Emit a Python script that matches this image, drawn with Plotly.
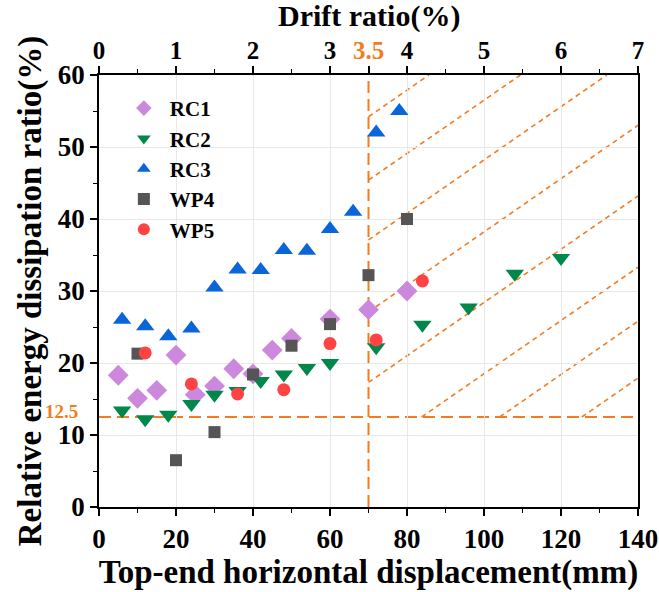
import plotly.graph_objects as go

# ---------------- data ----------------
rc1_x = [5, 10, 15, 20, 25, 30, 35, 40, 45, 50, 60, 70, 80]
rc1_y = [18.3, 15.1, 16.2, 21.1, 15.6, 16.8, 19.2, 18.5, 21.8, 23.4, 26.1, 27.4, 30.0]

rc2_x = [6, 12, 18, 24, 30, 36, 42, 48, 54, 60, 72, 84, 96, 108, 120]
rc2_y = [13.4, 12.2, 12.8, 14.3, 15.6, 16.1, 17.5, 18.4, 19.3, 20.0, 22.2, 25.3, 27.7, 32.4, 34.6]

rc3_x = [6, 12, 18, 24, 30, 36, 42, 48, 54, 60, 66, 72, 78]
rc3_y = [26.0, 25.1, 23.7, 24.8, 30.5, 33.0, 32.9, 35.7, 35.6, 38.6, 41.0, 52.0, 55.0]

wp4_x = [10, 20, 30, 40, 50, 60, 70, 80]
wp4_y = [21.3, 6.5, 10.4, 18.4, 22.4, 25.4, 32.2, 40.0]

wp5_x = [12, 24, 36, 48, 60, 72, 84]
wp5_y = [21.4, 17.1, 15.7, 16.3, 22.7, 23.2, 31.4]

x_ticks = [0, 20, 40, 60, 80, 100, 120, 140]
y_ticks = [0, 10, 20, 30, 40, 50, 60]
drift_ticks = [0, 1, 2, 3, 3.5, 4, 5, 6, 7]

limit_disp = 70        # mm (3.5 % drift)
limit_ratio = 12.5     # %
hatch_slope = 0.37     # hatch line slope (data units)
hatch_y0 = [54.2, 45.4, 37.1, 27.1, 17.3, 7.4, -0.1, -8.0]  # hatch y at x=70

ORANGE = "#F47B20"
FONT = "Liberation Serif"

fig = go.Figure()

series = [
    ("RC1", rc1_x, rc1_y, "diamond", "#CC88DD", 16),
    ("RC2", rc2_x, rc2_y, "triangle-down", "#00874A", 16),
    ("RC3", rc3_x, rc3_y, "triangle-up", "#0A66D8", 16),
    ("WP4", wp4_x, wp4_y, "square", "#555555", 12),
    ("WP5", wp5_x, wp5_y, "circle", "#FF4242", 13),
]
for name, xs, ys, sym, col, sz in series:
    fig.add_trace(go.Scatter(
        x=xs, y=ys, mode="markers", name=name,
        marker=dict(symbol=sym, color=col, size=sz, line=dict(width=0)),
    ))

# dummy trace for top axis
fig.add_trace(go.Scatter(x=[0, 7], y=[None, None], xaxis="x2", showlegend=False,
                         hoverinfo="skip", mode="markers"))

# limit lines
x_lo, x_hi = x_ticks[0], x_ticks[-1]
y_lo, y_hi = y_ticks[0], y_ticks[-1]
fig.add_shape(type="line", x0=limit_disp, x1=limit_disp, y0=y_lo, y1=y_hi,
              xref="x", yref="y", line=dict(color=ORANGE, width=2, dash="12px,6px"), layer="below")
fig.add_shape(type="line", x0=x_lo, x1=x_hi, y0=limit_ratio, y1=limit_ratio,
              xref="x", yref="y", line=dict(color=ORANGE, width=2, dash="12px,6px"), layer="below")

# hatch lines in the region x>=70, y>=12.5
for y0 in hatch_y0:
    if y0 >= limit_ratio:
        xs0, ys0 = limit_disp, y0
    else:
        xs0, ys0 = limit_disp + (limit_ratio - y0) / hatch_slope, limit_ratio
    y_end = y0 + hatch_slope * (x_hi - limit_disp)
    if y_end <= y_hi:
        xe, ye = x_hi, y_end
    else:
        xe, ye = limit_disp + (y_hi - y0) / hatch_slope, y_hi
    fig.add_shape(type="line", x0=xs0, y0=ys0, x1=xe, y1=ye, xref="x", yref="y",
                  line=dict(color=ORANGE, width=1.6, dash="5px,4px"), layer="below")

tickfont = dict(family=FONT, size=27, color="black", weight="bold")
toptickfont = dict(family=FONT, size=25, color="black", weight="bold")
titlefont = dict(family=FONT, size=33, color="black", weight="bold")

drift_text = [f'<span style="color:{ORANGE}">3.5</span>' if v == 3.5 else str(int(v))
              for v in drift_ticks]

fig.update_layout(
    width=659, height=592,
    margin=dict(l=99, r=21, t=75, b=85),
    paper_bgcolor="white", plot_bgcolor="white",
    showlegend=True,
    legend=dict(x=0.035, y=0.97, xanchor="left", yanchor="top",
                bgcolor="rgba(0,0,0,0)", font=dict(family=FONT, size=21, color="black", weight="bold"),
                tracegroupgap=0, itemsizing="constant", itemwidth=42),
    xaxis=dict(range=[x_lo, x_hi], tickvals=x_ticks, showgrid=True, gridcolor="#E8E8E8",
               gridwidth=1, zeroline=False, showline=True, linecolor="black", linewidth=1.5,
               ticks="outside", ticklen=7, tickwidth=1.5, tickcolor="black",
               minor=dict(dtick=10, ticks="outside", ticklen=4, tickwidth=1.2, tickcolor="black", showgrid=False),
               tickfont=tickfont,
               title=dict(text="Top-end horizontal displacement(mm)", font=titlefont, standoff=4),
               automargin=False),
    xaxis2=dict(range=[0, 7], overlaying="x", side="top", tickvals=drift_ticks, ticktext=drift_text,
                showgrid=False, zeroline=False, showline=True, linecolor="black", linewidth=1.5,
                ticks="outside", ticklen=7, tickwidth=1.5, tickcolor="black",
                minor=dict(dtick=0.5, ticks="outside", ticklen=4, tickwidth=1.2, tickcolor="black", showgrid=False),
                tickfont=toptickfont, ticklabelstandoff=-3,
                automargin=False),
    yaxis=dict(range=[y_lo, y_hi], tickvals=y_ticks, showgrid=True, gridcolor="#E8E8E8",
               gridwidth=1, zeroline=False, showline=True, linecolor="black", linewidth=1.5,
               mirror=True,
               ticks="outside", ticklen=7, tickwidth=1.5, tickcolor="black",
               minor=dict(dtick=5, ticks="outside", ticklen=4, tickwidth=1.2, tickcolor="black", showgrid=False),
               tickfont=tickfont,
               title=dict(text="Relative energy dissipation ratio(%)", font=titlefont, standoff=6),
               automargin=False),
)

# top-axis title
fig.add_annotation(x=0.5, xref="paper", y=1, yref="paper", yshift=78, text="Drift ratio(%)",
                   showarrow=False, xanchor="center", yanchor="top",
                   font=dict(family=FONT, size=30, color="black", weight="bold"))

fig.add_annotation(x=0, xref="paper", y=limit_ratio, yref="y", text="12.5", showarrow=False,
                   xanchor="right", yanchor="middle", xshift=-19, yshift=6,
                   font=dict(family=FONT, size=19, color=ORANGE, weight="bold"))

fig.write_html("out.html")
